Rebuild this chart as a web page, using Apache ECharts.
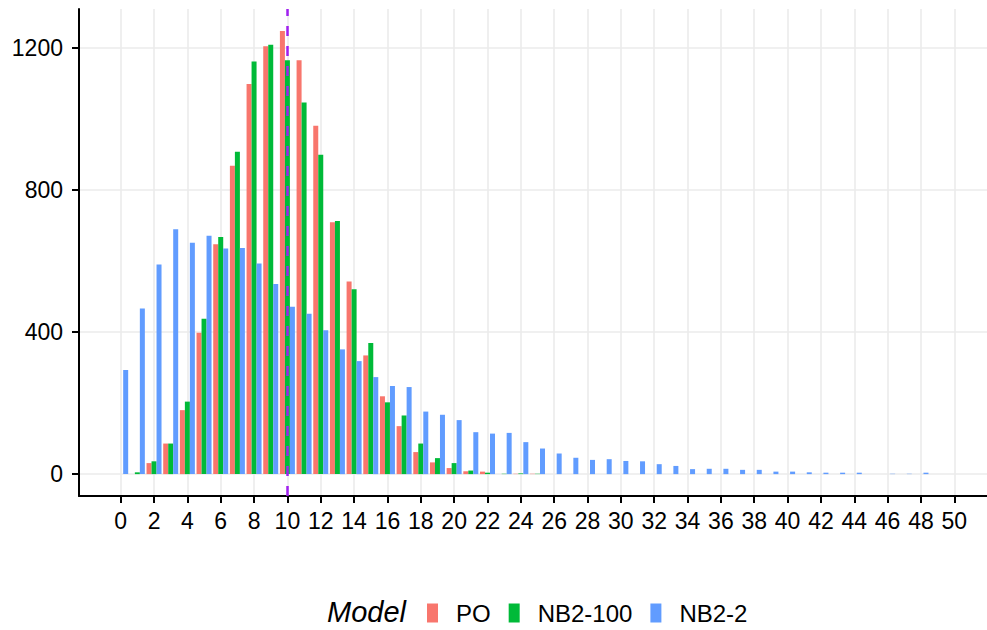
<!DOCTYPE html>
<html>
<head>
<meta charset="utf-8">
<script src="https://cdn.jsdelivr.net/npm/echarts@6/dist/echarts.min.js"></script>
<style>html,body{margin:0;padding:0;background:#fff;}#c{width:987px;height:630px;}</style>
</head>
<body>
<div id="c"></div>
<script>
// counts 0..48
const counts = [0,1,2,3,4,5,6,7,8,9,10,11,12,13,14,15,16,17,18,19,20,21,22,23,24,25,26,27,28,29,30,31,32,33,34,35,36,37,38,39,40,41,42,43,44,45,46,47,48];
const poValues = [0,0,31,86,180,398,647,868,1098,1204,1247,1165,980,709,542,334,219,135,62,33,17,8,7,0,1,1,0,0,0,0,0,0,0,0,0,0,0,0,0,0,0,0,0,0,0,0,0,0,0];
const nb100Values = [0,5,36,86,204,437,667,907,1161,1208,1165,1046,899,712,520,369,202,165,86,45,31,10,4,1,2,1,0,0,0,0,0,0,0,0,0,0,0,0,0,0,0,0,0,0,0,0,0,0,0];
const nb2Values = [293,466,590,689,651,671,635,636,593,535,471,451,405,351,318,273,248,245,176,167,152,118,114,116,90,72,58,46,40,42,37,36,28,23,14,15,15,12,12,7,7,5,4,4,4,0,1,1,4];
const seriesNames = ['PO','NB2-100','NB2-2'];
const xTicks = [0,2,4,6,8,10,12,14,16,18,20,22,24,26,28,30,32,34,36,38,40,42,44,46,48,50];
const yTicks = [0,400,800,1200];
const refLineX = 10;

const colors = ['#F8766D','#00BA38','#619CFF'];
const font = 'Liberation Sans, Arial, Helvetica, sans-serif';
const mk = vals => counts.map((c,i)=>[c, vals[i]]);

const chart = echarts.init(document.getElementById('c'), null, {renderer:'svg'});
chart.setOption({
  animation:false,
  backgroundColor:'#ffffff',
  textStyle:{fontFamily:font},
  title:{text:'Model', left:327, top:597, padding:0,
    textStyle:{fontFamily:font, fontStyle:'italic', fontWeight:'normal', fontSize:29, color:'#000'}},
  legend:{left:427, top:601, padding:0, icon:'rect', itemWidth:11, itemHeight:19, itemGap:18,
    data:seriesNames,
    textStyle:{fontFamily:font, fontSize:24, color:'#000', padding:[0,0,0,13]}},
  grid:{left:79, right:0, top:9, bottom:134, containLabel:false},
  xAxis:{type:'value', min:-2.5, max:51.96,
    axisLine:{show:true, onZero:false, lineStyle:{color:'#000', width:2}},
    axisTick:{show:true, length:7, customValues:xTicks, lineStyle:{color:'#000', width:2}},
    axisLabel:{customValues:xTicks, fontSize:23, color:'#000', margin:13, fontFamily:font,
      formatter:v=>String(v)},
    splitLine:{show:true, lineStyle:{color:'#ebebeb', width:1.6}}},
  yAxis:{type:'value', min:-61.6, max:1308.9,
    axisLine:{show:true, onZero:false, lineStyle:{color:'#000', width:2}},
    axisTick:{show:true, length:7, customValues:yTicks, lineStyle:{color:'#000', width:2}},
    axisLabel:{customValues:yTicks, fontSize:23, color:'#000', margin:16, fontFamily:font,
      formatter:v=>String(v)},
    splitLine:{show:true, lineStyle:{color:'#ebebeb', width:1.6}}},
  series:[
    {name:seriesNames[0], type:'bar', data:mk(poValues), barWidth:5, barGap:'0%', itemStyle:{color:colors[0]}},
    {name:seriesNames[1], type:'bar', data:mk(nb100Values), barWidth:5, barGap:'0%', itemStyle:{color:colors[1]}},
    {name:seriesNames[2], type:'bar', data:mk(nb2Values), barWidth:5, barGap:'0%', itemStyle:{color:colors[2]}},
    {name:'ref', type:'line', data:[], silent:true, z:5,
      markLine:{silent:true, symbol:'none', label:{show:false},
        lineStyle:{color:'#A020F0', type:[10,10], width:2.5, opacity:1},
        emphasis:{disabled:true},
        data:[{xAxis:refLineX}]}}
  ]
});
</script>
</body>
</html>
